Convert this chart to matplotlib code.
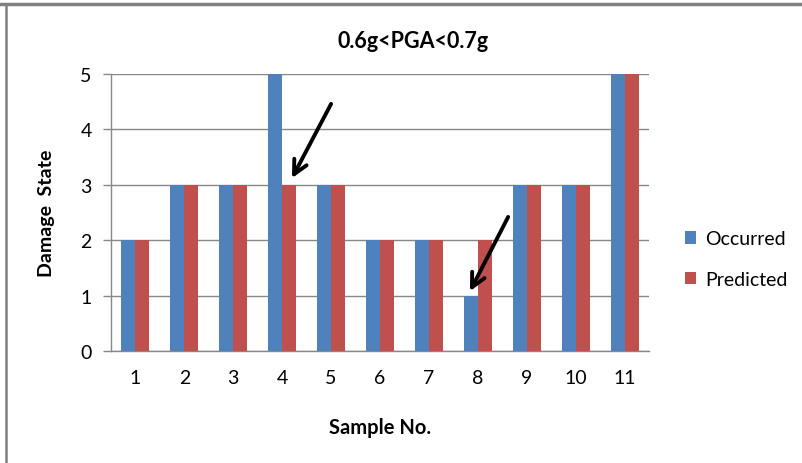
import matplotlib
matplotlib.use("Agg")
import matplotlib.pyplot as plt
from matplotlib.lines import Line2D
import numpy as np

plt.rcParams['font.family'] = ['Lato', 'DejaVu Sans']

samples = ["1", "2", "3", "4", "5", "6", "7", "8", "9", "10", "11"]
occurred = [2, 3, 3, 5, 3, 2, 2, 1, 3, 3, 5]
predicted = [2, 3, 3, 3, 3, 2, 2, 2, 3, 3, 5]
y_ticks = [0, 1, 2, 3, 4, 5]

blue = "#4F81BD"
red = "#C0504D"
grid_gray = "#888888"

fig = plt.figure(figsize=(8.02, 4.64), dpi=100)
ax = fig.add_axes([111 / 802, 1 - 352 / 464, (649 - 111) / 802, (352 - 75) / 464])

x = np.arange(1, len(samples) + 1)
w = 0.286
ax.bar(x - w / 2, occurred, width=w, color=blue, label="Occurred", zorder=3)
ax.bar(x + w / 2, predicted, width=w, color=red, label="Predicted", zorder=3)

ax.set_xlim(0.5, len(samples) + 0.5)
ax.set_ylim(0, 5)
ax.set_yticks(y_ticks)
ax.set_xticks(x)
ax.set_xticklabels(samples)
ax.yaxis.grid(True, color=grid_gray, linewidth=1.0, zorder=0)
ax.set_axisbelow(True)

for side in ("top", "right"):
    ax.spines[side].set_visible(False)
for side in ("left", "bottom"):
    ax.spines[side].set_color(grid_gray)
    ax.spines[side].set_linewidth(1.0)

ax.tick_params(axis="y", length=6, width=1.0, color=grid_gray, labelsize=14, pad=8)
ax.tick_params(axis="x", length=0, labelsize=14, pad=13)

ax.set_xlabel("Sample No.", fontsize=14.5, fontweight="bold", labelpad=22)
ax.set_ylabel("Damage  State", fontsize=14, fontweight="bold", labelpad=18)

fig.text(413 / 802, 1 - 42 / 464, "0.6g<PGA<0.7g", ha="center", va="center",
         fontsize=15.5, fontweight="bold")

# arrows pointing at the mismatched samples
arrow_kw = dict(arrowstyle="->,head_length=1.0,head_width=0.5", color="black",
                lw=2.8, shrinkA=0, shrinkB=0)
ax.annotate("", xy=(4.20, 3.12), xytext=(5.0, 4.46), arrowprops=arrow_kw, zorder=5)
ax.annotate("", xy=(7.84, 1.08), xytext=(8.62, 2.42), arrowprops=arrow_kw, zorder=5)

leg = fig.legend(loc="center left", bbox_to_anchor=(667 / 802, 1 - 260 / 464),
                 frameon=False, fontsize=14, handlelength=0.6, handleheight=0.6,
                 handletextpad=0.45, labelspacing=1.2)

# chart frame lines
fig.add_artist(Line2D([0, 1], [1 - 5 / 464, 1 - 5 / 464], color="#808080", lw=2.5,
                      transform=fig.transFigure))
fig.add_artist(Line2D([6 / 802, 6 / 802], [0, 1 - 5 / 464], color="#808080", lw=1.8,
                      transform=fig.transFigure))

fig.savefig("out.png", dpi=100)
